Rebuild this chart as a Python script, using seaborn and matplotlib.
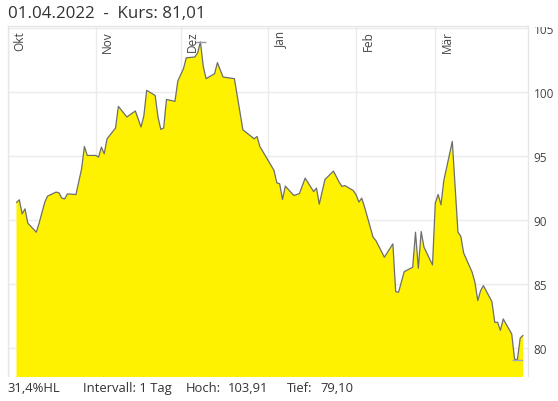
import matplotlib
matplotlib.use("Agg")
import matplotlib.pyplot as plt
import matplotlib.transforms as mtransforms
from matplotlib.patches import Rectangle
import pandas as pd
import seaborn as sns

dates = [
    "2021-10-04", "2021-10-05", "2021-10-06", "2021-10-07", "2021-10-08",
    "2021-10-11", "2021-10-12", "2021-10-14", "2021-10-15", "2021-10-18",
    "2021-10-19", "2021-10-20", "2021-10-21", "2021-10-22", "2021-10-25",
    "2021-10-27", "2021-10-28", "2021-10-29", "2021-11-01", "2021-11-02",
    "2021-11-03", "2021-11-04", "2021-11-05", "2021-11-08", "2021-11-09",
    "2021-11-12", "2021-11-15", "2021-11-17", "2021-11-18", "2021-11-19",
    "2021-11-22", "2021-11-23", "2021-11-24", "2021-11-25", "2021-11-26",
    "2021-11-29", "2021-11-30", "2021-12-02", "2021-12-03", "2021-12-06",
    "2021-12-07", "2021-12-08", "2021-12-09", "2021-12-10", "2021-12-13",
    "2021-12-14", "2021-12-16", "2021-12-20", "2021-12-23", "2021-12-27",
    "2021-12-28", "2021-12-29", "2022-01-03", "2022-01-04", "2022-01-05",
    "2022-01-06", "2022-01-07", "2022-01-10", "2022-01-12", "2022-01-14",
    "2022-01-17", "2022-01-18", "2022-01-19", "2022-01-21", "2022-01-24",
    "2022-01-26", "2022-01-27", "2022-01-28", "2022-01-31", "2022-02-01",
    "2022-02-02", "2022-02-03", "2022-02-04", "2022-02-07", "2022-02-08",
    "2022-02-11", "2022-02-14", "2022-02-15", "2022-02-16", "2022-02-18",
    "2022-02-21", "2022-02-22", "2022-02-23", "2022-02-24", "2022-02-25",
    "2022-02-28", "2022-03-01", "2022-03-02", "2022-03-03", "2022-03-04",
    "2022-03-07", "2022-03-09", "2022-03-10", "2022-03-11", "2022-03-14",
    "2022-03-15", "2022-03-16", "2022-03-17", "2022-03-18", "2022-03-21",
    "2022-03-22", "2022-03-23", "2022-03-24", "2022-03-25", "2022-03-28",
    "2022-03-29", "2022-03-30", "2022-03-31", "2022-04-01",
]
prices = [
    91.37, 91.59, 90.49, 90.88, 89.77,
    89.06, 89.77, 91.41, 91.88, 92.19,
    92.13, 91.72, 91.66, 92.05, 92.00,
    94.00, 95.75, 95.05, 95.05, 94.92,
    95.70, 95.18, 96.35, 97.19, 98.88,
    98.05, 98.52, 97.27, 98.13, 100.13,
    99.73, 98.05, 97.08, 97.19, 99.42,
    99.27, 100.85, 101.82, 102.67, 102.73,
    103.05, 103.91, 102.00, 101.04, 101.43,
    102.29, 101.17, 101.04, 97.05, 96.35,
    96.53, 95.75, 93.88, 92.91, 92.84,
    91.61, 92.66, 91.92, 92.08, 93.28,
    92.23, 92.50, 91.25, 93.17, 93.83,
    92.97, 92.63, 92.70, 92.31, 91.98,
    91.41, 91.72, 91.02, 88.67, 88.41,
    87.11, 88.15, 84.42, 84.37, 85.98,
    86.33, 89.06, 86.25, 89.11, 87.89,
    86.51, 91.35, 92.00, 91.20, 93.09,
    96.15, 89.06, 88.75, 87.45, 85.94,
    85.16, 83.72, 84.50, 84.89, 83.64,
    82.03, 82.03, 81.40, 82.29, 81.12,
    79.16, 79.10, 80.80, 81.01,
]
month_starts = ["2021-10-01", "2021-11-01", "2021-12-01", "2022-01-01", "2022-02-01", "2022-03-01"]
month_labels = ["Okt", "Nov", "Dez", "Jan", "Feb", "Mär"]
y_ticks = [80, 85, 90, 95, 100, 105]

df = pd.DataFrame({"Datum": pd.to_datetime(dates), "Kurs": prices})
high = df["Kurs"].max()
low = df["Kurs"].min()
last = df["Kurs"].iloc[-1]


def de(v, digits=2):
    return f"{v:.{digits}f}".replace(".", ",")


sns.set_theme(style="white")
plt.rcParams["font.family"] = ["Open Sans", "DejaVu Sans"]

fig = plt.figure(figsize=(5.58, 4.02), dpi=100)
ax = fig.add_axes([8 / 558, 1 - 377.5 / 402, 520 / 558, 350.5 / 402])

ax.fill_between(df["Datum"], df["Kurs"], 70, color="#fff200", linewidth=0, zorder=2)
sns.lineplot(data=df, x="Datum", y="Kurs", ax=ax, color="#6e6e6e", linewidth=0.9, zorder=3)

# short markers at high and low
hi_day = df.loc[df["Kurs"].idxmax(), "Datum"]
lo_day = df.loc[df["Kurs"].idxmin(), "Datum"]
ax.hlines(high, hi_day - pd.Timedelta(days=2), hi_day + pd.Timedelta(days=2), color="#9a9a9a", linewidth=1, zorder=4)
ax.hlines(low, lo_day - pd.Timedelta(days=2), lo_day + pd.Timedelta(days=2), color="#9fa8c6", linewidth=1, zorder=4)

ax.set_xlim(pd.Timestamp("2021-10-01 03:00"), pd.Timestamp("2022-04-02 18:00"))
ax.set_ylim(77.8, 105.15)

ax.set_xticks(pd.to_datetime(month_starts))
ax.tick_params(axis="x", length=0, labelbottom=False)
ax.set_yticks(y_ticks)
ax.yaxis.tick_right()
ax.tick_params(axis="y", length=0, pad=4, labelsize=8.5, labelcolor="#444444",
               left=False, labelleft=False, right=False, labelright=True)
ax.grid(True, color="#ebebeb", linewidth=1, zorder=0)
ax.set_axisbelow(True)
ax.set_xlabel("")
ax.set_ylabel("")
for side in ["top", "right", "left"]:
    ax.spines[side].set_color("#e6e6e6")
    ax.spines[side].set_linewidth(1)
ax.spines["bottom"].set_visible(False)

# the top tick label is cut off in the original widget
fig.add_artist(Rectangle((529 / 558, 1 - 27.5 / 402), 29 / 558, 27.5 / 402,
                         transform=fig.transFigure, facecolor="white", edgecolor="none", zorder=10))

trans = mtransforms.blended_transform_factory(ax.transData, ax.transAxes)
offset = mtransforms.ScaledTranslation(4 / 72, -3 / 72, fig.dpi_scale_trans)
for day, name in zip(pd.to_datetime(month_starts), month_labels):
    ax.text(day, 1, name, transform=trans + offset, rotation=90, ha="left", va="top",
            fontsize=8.5, color="#444444", zorder=5)

fig.text(8 / 558, 1 - 14 / 402, f"01.04.2022  -  Kurs: {de(last)}", fontsize=12.2,
         color="#333333", va="center", ha="left")

footer_y = 1 - 389 / 402
fig.text(7 / 558, footer_y, f"{de((high - low) / low * 100, 1)}%HL", fontsize=9.4, color="#333333", va="center")
fig.text(83 / 558, footer_y, "Intervall: 1 Tag", fontsize=9.4, color="#333333", va="center")
fig.text(186 / 558, footer_y, "Hoch:", fontsize=9.4, color="#333333", va="center")
fig.text(228 / 558, footer_y, de(high), fontsize=9.4, color="#333333", va="center")
fig.text(287 / 558, footer_y, "Tief:", fontsize=9.4, color="#333333", va="center")
fig.text(320 / 558, footer_y, de(low), fontsize=9.4, color="#333333", va="center")

fig.savefig("out.png", dpi=100)
